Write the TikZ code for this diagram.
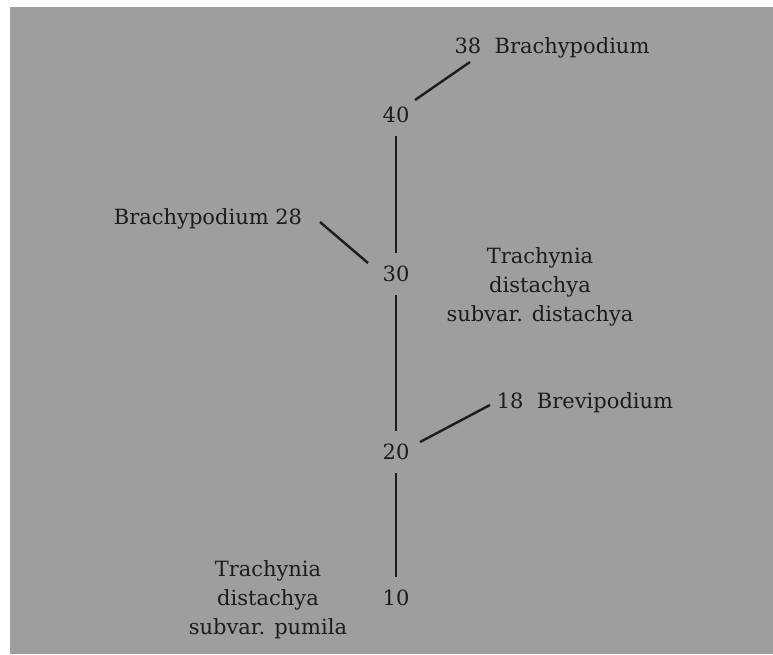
\documentclass[tikz,border=0pt]{standalone}
\usepackage{fontspec}
\setmainfont{DejaVu Serif}
\definecolor{paper}{RGB}{158,158,158}
\definecolor{ink}{RGB}{28,28,28}
\begin{document}
\begin{tikzpicture}[
    x=1pt, y=-1pt,
    every node/.style={text=ink, font=\fontsize{21}{29}\selectfont},
    num/.style={minimum height=42pt, minimum width=30pt, inner sep=0pt},
    label/.style={align=center, inner sep=0pt},
    stem/.style={draw=ink, line width=2.4pt},
    link/.style={draw=ink, line width=2.4pt}
]
\useasboundingbox (0,0) rectangle (773,654);
\fill[paper] (10,7) rectangle (773,654);

\node (n40) [num] at (396,115) {40};
\node (n30) [num] at (396,274) {30};
\node (n20) [num] at (396,452) {20};
\node (n10) [num] at (396,598) {10};

\node (b38) [label] at (552,48)  {38~ Brachypodium};
\node (b28) [label] at (208,219) {Brachypodium 28};
\node (b18) [label] at (585,403) {18~ Brevipodium};
\node (td)  [label] at (540,287) {Trachynia\\distachya\\subvar. distachya};
\node (tp)  [label] at (268,600) {Trachynia\\distachya\\subvar. pumila};

% line ends
\coordinate (s40) at (415,100);
\coordinate (e38) at (470,62);
\coordinate (s30) at (368,263);
\coordinate (e28) at (320,222);
\coordinate (s20) at (420,442);
\coordinate (e18) at (490,405);

% Edges
\draw[stem] (n40) -- (n30);
\draw[stem] (n30) -- (n20);
\draw[stem] (n20) -- (n10);

\draw[link] (s40) -- (e38);
\draw[link] (s30) -- (e28);
\draw[link] (s20) -- (e18);

\end{tikzpicture}
\end{document}
